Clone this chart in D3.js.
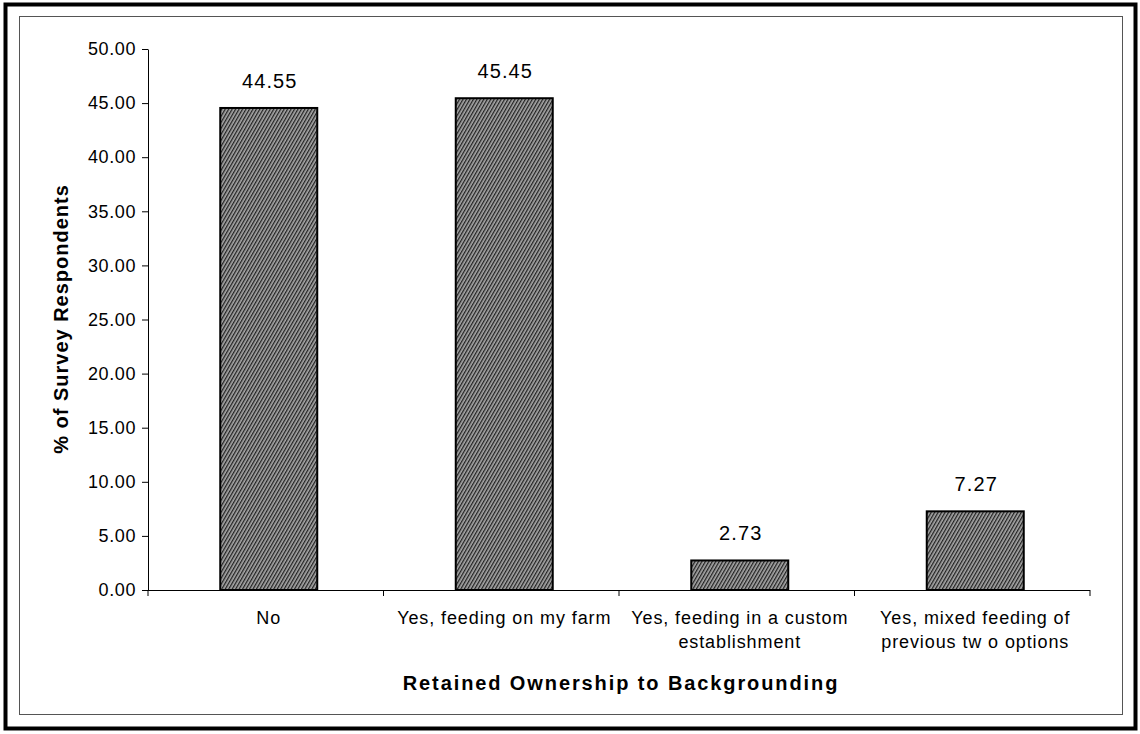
<!DOCTYPE html>
<html><head><meta charset="utf-8">
<script src="https://cdn.jsdelivr.net/npm/d3@7"></script>
<style>body{margin:0;background:#fff}svg{display:block}text{font-family:"Liberation Sans",Arial,sans-serif}</style>
</head><body>
<svg id="c" width="1140" height="734"></svg>
<script>
const categories = [["No"], ["Yes, feeding on my farm"], ["Yes, feeding in a custom", "establishment"], ["Yes, mixed feeding of", "previous tw o options"]];
const values = [44.55, 45.45, 2.73, 7.27];
const valueLabels = ["44.55", "45.45", "2.73", "7.27"];
const yTicks = [0, 5, 10, 15, 20, 25, 30, 35, 40, 45, 50];

const svg = d3.select("#c");
const W = 1140, H = 734;
svg.append("rect").attr("x", 0).attr("y", 0).attr("width", W).attr("height", H).attr("fill", "#fff");
svg.append("rect").attr("x", 5.5).attr("y", 4.5).attr("width", 1130).attr("height", 724)
  .attr("fill", "none").attr("stroke", "#000").attr("stroke-width", 4);
svg.append("rect").attr("x", 19.5).attr("y", 16.5).attr("width", 1103).attr("height", 698)
  .attr("fill", "none").attr("stroke", "#555").attr("stroke-width", 1);

const defs = svg.append("defs");
const pat = defs.append("pattern").attr("id", "hatch").attr("patternUnits", "userSpaceOnUse")
  .attr("width", 3).attr("height", 3).attr("patternTransform", "rotate(30)");
pat.append("rect").attr("width", 3).attr("height", 3).attr("fill", "#a8a8a8");
pat.append("rect").attr("width", 1.3).attr("height", 3).attr("fill", "#222");

const x0 = 148, x1 = 1090, yTop = 49, yBot = 590;
const x = d3.scaleBand().domain(d3.range(categories.length)).range([x0, x1]).paddingInner(0).paddingOuter(0);
const y = d3.scaleLinear().domain([0, 50]).range([yBot, yTop]);

const yAxis = d3.axisLeft(y).tickValues(yTicks).tickFormat(d3.format(".2f")).tickSize(6).tickSizeOuter(0);
const gy = svg.append("g").attr("transform", `translate(${x0},0)`).call(yAxis);
gy.select(".domain").attr("stroke", "#000");
gy.selectAll(".tick line").attr("stroke", "#000");
gy.selectAll(".tick text").attr("font-size", 18).attr("letter-spacing", "0.6px").attr("fill", "#000").attr("x", -12);

const bw = 97;
svg.selectAll("rect.bar").data(values).enter().append("rect").attr("class", "bar")
  .attr("x", (d, i) => x(i) + x.bandwidth() / 2 - bw / 2 + 3)
  .attr("y", d => y(d)).attr("width", bw).attr("height", d => yBot - y(d))
  .attr("fill", "url(#hatch)").attr("stroke", "#000").attr("stroke-width", 2);

const xAxisLine = svg.append("g");
xAxisLine.append("line").attr("x1", x0).attr("x2", x1).attr("y1", yBot + 0.5).attr("y2", yBot + 0.5).attr("stroke", "#000").attr("stroke-width", 1.2);
const bounds = d3.range(categories.length + 1).map(i => i < categories.length ? x(i) : x1);
xAxisLine.selectAll("line.t").data(bounds).enter().append("line").attr("class", "t")
  .attr("x1", d => d).attr("x2", d => d).attr("y1", yBot).attr("y2", yBot + 6).attr("stroke", "#000");

svg.selectAll("text.val").data(values).enter().append("text").attr("class", "val")
  .attr("x", (d, i) => x(i) + x.bandwidth() / 2 + 4).attr("y", d => y(d) - 20)
  .attr("text-anchor", "middle").attr("font-size", 20).attr("letter-spacing", "1.1px").attr("fill", "#000")
  .text((d, i) => valueLabels[i]);

const cl = svg.selectAll("text.cat").data(categories).enter().append("text").attr("class", "cat")
  .attr("text-anchor", "middle").attr("font-size", 18).attr("letter-spacing", "0.9px").attr("fill", "#000")
  .attr("transform", (d, i) => `translate(${x(i) + x.bandwidth() / 2 + 3},${624})`);
cl.selectAll("tspan").data(d => d).enter().append("tspan").attr("x", 0).attr("dy", (d, j) => j === 0 ? 0 : 24).text(d => d);

svg.append("text").attr("x", 621).attr("y", 690).attr("text-anchor", "middle")
  .attr("font-size", 20).attr("font-weight", "bold").attr("letter-spacing", "1.9px").attr("fill", "#000").text("Retained Ownership to Backgrounding");
svg.append("text").attr("transform", "translate(68,319) rotate(-90)").attr("text-anchor", "middle")
  .attr("font-size", 20).attr("font-weight", "bold").attr("letter-spacing", "1px").attr("fill", "#000").text("% of Survey Respondents");
</script>
</body></html>
